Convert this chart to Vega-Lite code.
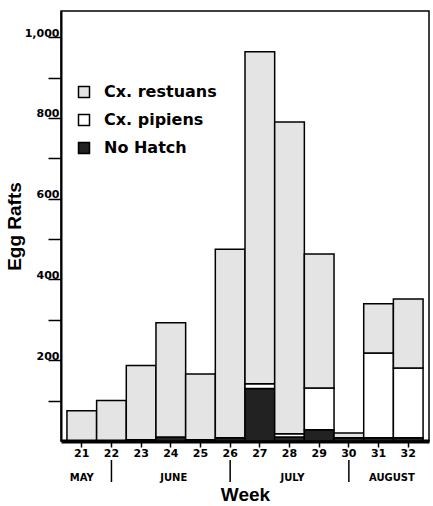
{
  "$schema": "https://vega.github.io/schema/vega-lite/v6.json",
  "padding": {"left": 4, "top": 10, "right": 5, "bottom": 0},
  "background": "white",
  "spacing": 0,
  "resolve": {"scale": {"x": "independent"}, "axis": {"x": "independent"}},
  "config": {
    "view": {"stroke": null},
    "axis": {"grid": false, "labelColor": "black", "titleColor": "black", "domainColor": "black", "tickColor": "black"}
  },
  "datasets": {
    "rafts": [
      {"week": 21, "species": "No Hatch", "rank": 1, "rafts": 2},
      {"week": 21, "species": "Cx. restuans", "rank": 3, "rafts": 73},
      {"week": 22, "species": "No Hatch", "rank": 1, "rafts": 2},
      {"week": 22, "species": "Cx. restuans", "rank": 3, "rafts": 98},
      {"week": 23, "species": "No Hatch", "rank": 1, "rafts": 3},
      {"week": 23, "species": "Cx. restuans", "rank": 3, "rafts": 184},
      {"week": 24, "species": "No Hatch", "rank": 1, "rafts": 10},
      {"week": 24, "species": "Cx. restuans", "rank": 3, "rafts": 283},
      {"week": 25, "species": "No Hatch", "rank": 1, "rafts": 3},
      {"week": 25, "species": "Cx. restuans", "rank": 3, "rafts": 163},
      {"week": 26, "species": "No Hatch", "rank": 1, "rafts": 8},
      {"week": 26, "species": "Cx. restuans", "rank": 3, "rafts": 467},
      {"week": 27, "species": "No Hatch", "rank": 1, "rafts": 130},
      {"week": 27, "species": "Cx. pipiens", "rank": 2, "rafts": 12},
      {"week": 27, "species": "Cx. restuans", "rank": 3, "rafts": 822},
      {"week": 28, "species": "No Hatch", "rank": 1, "rafts": 10},
      {"week": 28, "species": "Cx. pipiens", "rank": 2, "rafts": 8},
      {"week": 28, "species": "Cx. restuans", "rank": 3, "rafts": 772},
      {"week": 29, "species": "No Hatch", "rank": 1, "rafts": 28},
      {"week": 29, "species": "Cx. pipiens", "rank": 2, "rafts": 103},
      {"week": 29, "species": "Cx. restuans", "rank": 3, "rafts": 332},
      {"week": 30, "species": "No Hatch", "rank": 1, "rafts": 8},
      {"week": 30, "species": "Cx. restuans", "rank": 3, "rafts": 12},
      {"week": 31, "species": "No Hatch", "rank": 1, "rafts": 8},
      {"week": 31, "species": "Cx. pipiens", "rank": 2, "rafts": 210},
      {"week": 31, "species": "Cx. restuans", "rank": 3, "rafts": 122},
      {"week": 32, "species": "No Hatch", "rank": 1, "rafts": 8},
      {"week": 32, "species": "Cx. pipiens", "rank": 2, "rafts": 173},
      {"week": 32, "species": "Cx. restuans", "rank": 3, "rafts": 171}
    ],
    "months": [
      {"month": "MAY", "pos": 21},
      {"month": "JUNE", "pos": 24.1},
      {"month": "JULY", "pos": 28.1},
      {"month": "AUGUST", "pos": 31.45}
    ],
    "seps": [
      {"week": 22},
      {"week": 26},
      {"week": 30}
    ]
  },
  "vconcat": [
    {
      "width": 368,
      "height": 430,
      "view": {"stroke": "black", "strokeWidth": 1.5},
      "data": {"name": "rafts"},
      "mark": {"type": "bar", "stroke": "black", "strokeWidth": 1.5},
      "encoding": {
        "x": {
          "field": "week", "type": "ordinal",
          "scale": {"paddingInner": 0, "paddingOuter": 0.2},
          "axis": {
            "title": null, "labelAngle": 0, "domainWidth": 4, "tickSize": 6, "tickWidth": 1.5,
            "labelFont": "DejaVu Sans", "labelFontWeight": "bold", "labelFontSize": 11, "labelPadding": 0
          }
        },
        "y": {
          "field": "rafts", "type": "quantitative", "stack": "zero",
          "scale": {"domain": [0, 1065], "nice": false},
          "axis": {
            "title": "Egg Rafts", "titleFont": "Liberation Sans", "titleFontWeight": "bold", "titleFontSize": 19, "titlePadding": 0,
            "values": [100, 200, 300, 400, 500, 600, 700, 800, 900, 1000],
            "labelExpr": "datum.value % 200 === 0 ? format(datum.value, ',') : ''",
            "labelFont": "DejaVu Sans", "labelFontWeight": "bold", "labelFontSize": 11,
            "labelBaseline": "bottom", "labelPadding": -11, "labelOffset": 1,
            "tickSize": 13, "tickWidth": 1.5, "domainWidth": 2
          }
        },
        "color": {
          "field": "species", "type": "nominal",
          "scale": {"domain": ["Cx. restuans", "Cx. pipiens", "No Hatch"], "range": ["#e4e4e4", "#ffffff", "#222222"]},
          "legend": {
            "orient": "none", "legendX": 15, "legendY": 73, "title": null, "padding": 0,
            "symbolType": "square", "symbolSize": 121, "symbolStrokeColor": "black", "symbolStrokeWidth": 1.5, "symbolOpacity": 1,
            "labelFont": "DejaVu Sans", "labelFontWeight": "bold", "labelFontSize": 16, "labelColor": "black",
            "rowPadding": 10, "labelOffset": 12
          }
        },
        "order": {"field": "rank", "type": "quantitative"}
      }
    },
    {
      "width": 368,
      "height": 22,
      "layer": [
        {
          "data": {"name": "seps"},
          "mark": {"type": "rule", "stroke": "black", "strokeWidth": 1.5},
          "encoding": {
            "x": {
              "field": "week", "type": "quantitative",
              "scale": {"domain": [20.3, 32.7], "nice": false, "zero": false},
              "axis": {
                "title": "Week", "titleFont": "Liberation Sans", "titleFontWeight": "bold", "titleFontSize": 19, "titlePadding": 3,
                "labels": false, "ticks": false, "domain": false
              }
            }
          }
        },
        {
          "data": {"name": "months"},
          "mark": {"type": "text", "font": "DejaVu Sans", "fontWeight": "bold", "fontSize": 10, "dy": 7, "color": "black"},
          "encoding": {
            "x": {"field": "pos", "type": "quantitative"},
            "text": {"field": "month"}
          }
        }
      ]
    }
  ]
}
